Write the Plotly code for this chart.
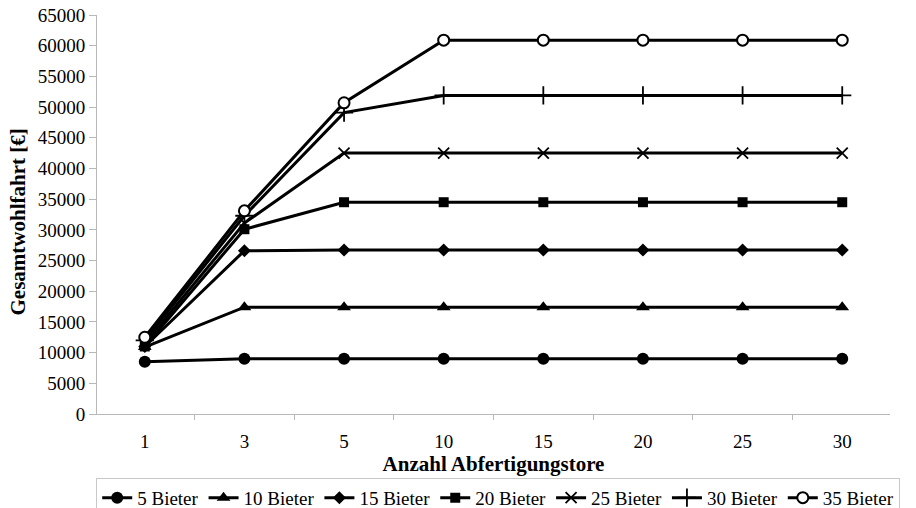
import plotly.graph_objects as go

categories = ["1", "3", "5", "10", "15", "20", "25", "30"]
series_names = ["5 Bieter", "10 Bieter", "15 Bieter", "20 Bieter", "25 Bieter", "30 Bieter", "35 Bieter"]
bieter_5 = [8500, 9000, 9000, 9000, 9000, 9000, 9000, 9000]
bieter_10 = [10900, 17400, 17400, 17400, 17400, 17400, 17400, 17400]
bieter_15 = [11000, 26600, 26700, 26700, 26700, 26700, 26700, 26700]
bieter_20 = [11000, 30100, 34500, 34500, 34500, 34500, 34500, 34500]
bieter_25 = [11500, 31100, 42500, 42500, 42500, 42500, 42500, 42500]
bieter_30 = [12000, 32300, 49100, 51900, 51900, 51900, 51900, 51900]
bieter_35 = [12500, 33100, 50700, 60900, 60900, 60900, 60900, 60900]
all_series = [bieter_5, bieter_10, bieter_15, bieter_20, bieter_25, bieter_30, bieter_35]
y_title = "Gesamtwohlfahrt [€]"
x_title = "Anzahl Abfertigungstore"

symbols = ["circle", "triangle-up", "diamond", "square", "x-thin-open", "cross-thin-open", "circle-open"]
sizes = [12, 12, 10, 10, 11, 13, 11]

fig = go.Figure()
for name, vals, sym, sz in zip(series_names, all_series, symbols, sizes):
    marker = dict(symbol=sym, size=sz, color="black")
    if sym == "circle-open":
        marker = dict(symbol="circle", size=sz, color="white", line=dict(color="black", width=2))
    elif sym.endswith("thin-open"):
        marker = dict(symbol=sym, size=sz, color="black", line=dict(color="black", width=1.8))
    fig.add_trace(go.Scatter(
        x=categories, y=vals, name=name, mode="lines+markers",
        line=dict(color="black", width=3), marker=marker,
    ))

font_family = "Times New Roman, Liberation Serif, serif"
fig.update_layout(
    width=916, height=508,
    margin=dict(l=97, r=26, t=15, b=94, autoexpand=False),
    paper_bgcolor="white", plot_bgcolor="white",
    font=dict(family=font_family, size=19, color="black"),
    showlegend=True,
    legend=dict(
        orientation="h", x=-0.001, xanchor="left", y=-0.16, yanchor="top",
        bordercolor="#c8c8c8", borderwidth=1,
        font=dict(family=font_family, size=19, color="black"),
        itemwidth=30, tracegroupgap=0,
    ),
    xaxis=dict(
        type="category", categoryorder="array", categoryarray=categories,
        showgrid=False, showline=True, linecolor="#b8b8b8", linewidth=1,
        ticks="outside", tickson="boundaries", ticklen=5, tickcolor="#b8b8b8",
        ticklabelstandoff=10,
        tickfont=dict(family=font_family, size=19),
        title=dict(text="<b>" + x_title + "</b>", standoff=2,
                   font=dict(family=font_family, size=21)),
        zeroline=False,
    ),
    yaxis=dict(
        range=[0, 65000], dtick=5000, showgrid=False, showline=True,
        linecolor="#b8b8b8", linewidth=1, ticks="outside", ticklen=7,
        tickcolor="#b8b8b8", tickformat="d",
        tickfont=dict(family=font_family, size=19),
        zeroline=False,
    ),
    annotations=[dict(
        text="<b>" + y_title + "</b>", textangle=-90,
        xref="paper", yref="paper", x=-0.0996, y=0.48,
        xanchor="center", yanchor="middle", showarrow=False,
        font=dict(family=font_family, size=21, color="black"),
    )],
)

fig.write_html("out.html", config={"displayModeBar": False},
               post_script="document.body.style.margin='0';")
